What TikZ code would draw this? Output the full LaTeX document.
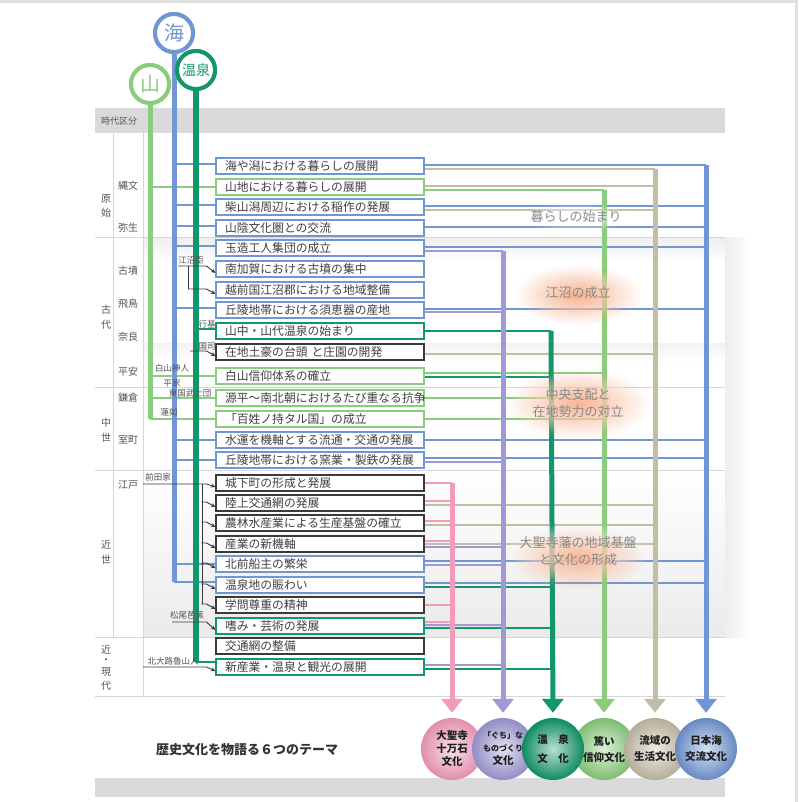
\documentclass[tikz,border=0pt]{standalone}
\usepackage{fontspec}
\setmainfont{Noto Sans CJK JP}
\usetikzlibrary{arrows.meta,fadings,calc}
\definecolor{cBlue}{HTML}{7096D4}
\definecolor{cGreen}{HTML}{8ACD7C}
\definecolor{cDk}{HTML}{12976A}
\definecolor{cTan}{HTML}{C4BDA6}
\definecolor{cPur}{HTML}{9F99D6}
\definecolor{cPink}{HTML}{F49BBB}
\definecolor{cDark}{HTML}{3A3A3A}
\definecolor{cText}{HTML}{404040}
\definecolor{cLab}{HTML}{555555}
\definecolor{cHead}{HTML}{DADADD}
\definecolor{cSep}{HTML}{D6D6D8}
\definecolor{cGlow}{HTML}{F6A37A}
\definecolor{cMid}{HTML}{8A8A8A}
\tikzfading[name=softglow, inner color=transparent!0, outer color=transparent!100]
\newcommand\hcon[4]{\draw[cn=#1] ($(#2.east)+(0,#3)$) -- ($(#2.east -| #4)+(0,#3)$);}
\newcommand\lcon[4]{\draw[br=#1] ($(#2.west -| #3)+(0,#4)$) -- ($(#2.west)+(0,#4)$);}
\newcommand\darr[3]{\draw[dk] (#1) -- ($(#1 -| #2.west)+(-9,0)$) -- ($(#2.west)+(0,#3)$);}
\newcommand\darrb[1]{\draw[dk] ($(#1.west)+(-14,-1)$) -- ($(#1.west)+(-9,-1)$) -- ($(#1.west)+(0,4)$);}
\begin{document}
\begin{tikzpicture}[x=1pt,y=-1pt,
  box/.style={draw=#1, line width=1.1pt, fill=white, minimum height=16pt, text width=190pt, inner xsep=9pt, inner ysep=0pt, align=left, font=\fontsize{11.8}{12}\selectfont, text=cText},
  cn/.style={draw=#1, line width=1.4pt},
  br/.style={draw=#1, line width=1.6pt},
  dk/.style={draw=cDark, line width=0.9pt, -{Stealth[length=4.5pt,width=4pt]}},
  dkl/.style={draw=cDark, line width=0.9pt},
  tv/.style={draw=#1, line width=5pt, -{Triangle[width=21pt,length=14pt]}, shorten >=5pt},
  tl/.style={draw=#1, line width=5pt},
  tc/.style={circle, draw=#1, line width=4pt, fill=white, minimum size=38pt, inner sep=0pt, text=#1},
  theme/.style={circle, minimum size=62pt, inner sep=0pt, shade, shading=radial, inner color=#1!30!white, outer color=#1!92!black, align=center, font=\bfseries\fontsize{10.5}{13}\selectfont, text=black!88},
  era/.style={font=\fontsize{10}{10}\selectfont, text=cLab, inner sep=0pt},
  sl/.style={font=\fontsize{8.5}{8.5}\selectfont, text=cLab, inner sep=0pt},
  mid/.style={font=\fontsize{13}{17}\selectfont, text=cMid, align=center, inner sep=0pt},
]
\useasboundingbox (0,0) rectangle (798,802);
\fill[white] (0,0) rectangle (798,802);
\draw[gray!25, line width=3pt] (0,2) -- (796,2) -- (796,802);
% backgrounds
\shade[top color=gray!14, bottom color=white] (143,237) rectangle (725,262);
\shade[top color=gray!10, bottom color=white] (143,343) rectangle (725,362);
\shade[top color=white, bottom color=gray!16] (143,470) rectangle (725,637);
\shade[left color=gray!14, right color=white] (725,237) rectangle (750,637);
\fill[cHead] (95,108) rectangle (725,133);
\fill[cHead] (95,778) rectangle (725,797);
\node[sl, font=\fontsize{9}{9}\selectfont] (hd) at (119,121) {時代区分};
\foreach \yy in {237,387,470,637,696} \draw[cSep, line width=0.8pt] (95,\yy) -- (725,\yy);
\draw[cSep, line width=0.8pt] (113,133) -- (113,637);
\draw[cSep, line width=0.8pt] (143,133) -- (143,696);
% era labels
\node[era] (e1) at (106,199) {原}; \node[era] (e2) at (106,213) {始};
\node[era] (e3) at (106,310) {古}; \node[era] (e4) at (106,325) {代};
\node[era] (e5) at (106,423) {中}; \node[era] (e6) at (106,438) {世};
\node[era] (e7) at (106,545) {近}; \node[era] (e8) at (106,560) {世};
\node[era] (e9) at (106,650) {近}; \node[era] (e10) at (106,661) {・};
\node[era] (e11) at (106,672) {現}; \node[era] (e12) at (106,686) {代};
\node[era] (p1) at (128,186) {縄文};
\node[era] (p2) at (128,228) {弥生};
\node[era] (p3) at (128,271) {古墳};
\node[era] (p4) at (128,304) {飛鳥};
\node[era] (p5) at (128,337) {奈良};
\node[era] (p6) at (128,372) {平安};
\node[era] (p7) at (128,398) {鎌倉};
\node[era] (p8) at (128,440) {室町};
\node[era] (p9) at (128,485) {江戸};
% boxes
\node[box=cBlue] (b1) at (320,166) {海や潟における暮らしの展開};
\node[box=cGreen] (b2) at (320,187) {山地における暮らしの展開};
\node[box=cBlue] (b3) at (320,207) {柴山潟周辺における稲作の発展};
\node[box=cBlue] (b4) at (320,228) {山陰文化圏との交流};
\node[box=cBlue] (b5) at (320,248) {玉造工人集団の成立};
\node[box=cBlue] (b6) at (320,269) {南加賀における古墳の集中};
\node[box=cBlue] (b7) at (320,290) {越前国江沼郡における地域整備};
\node[box=cBlue] (b8) at (320,310) {丘陵地帯における須恵器の産地};
\node[box=cDk] (b9) at (320,331) {山中・山代温泉の始まり};
\node[box=cDark] (b10) at (320,352) {在地土豪の台頭 と庄園の開発};
\node[box=cGreen] (b11) at (320,376) {白山信仰体系の確立};
\node[box=cGreen] (b12) at (320,398) {源平～南北朝におけるたび重なる抗争};
\node[box=cGreen] (b13) at (320,419) {「百姓ノ持タル国」の成立};
\node[box=cBlue] (b14) at (320,440) {水運を機軸とする流通・交通の発展};
\node[box=cBlue] (b15) at (320,460) {丘陵地帯における窯業・製鉄の発展};
\node[box=cDark] (b16) at (320,483) {城下町の形成と発展};
\node[box=cDark] (b17) at (320,503) {陸上交通網の発展};
\node[box=cDark] (b18) at (320,523) {農林水産業による生産基盤の確立};
\node[box=cDark] (b19) at (320,544) {産業の新機軸};
\node[box=cBlue] (b20) at (320,564) {北前船主の繁栄};
\node[box=cBlue] (b21) at (320,585) {温泉地の賑わい};
\node[box=cDark] (b22) at (320,605) {学問尊重の精神};
\node[box=cDk] (b23) at (320,626) {嗜み・芸術の発展};
\node[box=cDark] (b24) at (320,646) {交通網の整備};
\node[box=cDk] (b25) at (320,667) {新産業・温泉と観光の展開};
% theme circles
\node[theme=cPink] (tPink) at (452,749) {大聖寺\\十万石\\文化};
\node[theme=cPur] (tPur) at (503,749) {{\fontsize{8}{12}\selectfont「ぐち」な}\\{\fontsize{8}{12}\selectfont ものづくり}\\文化};
\node[theme=cGreen] (tGreen) at (604,749) {篤い\\[3pt]信仰文化};
\node[theme=cTan] (tTan) at (655,749) {流域の\\[3pt]生活文化};
\node[theme=cBlue] (tBlue) at (706,749) {日本海\\[3pt]交流文化};
\node[theme=cDk] (tDk) at (553,749) {温　泉\\[6pt]文　化};
\node[font=\bfseries\fontsize{13}{13}\selectfont, text=black!80] (ttl) at (247,750) {歴史文化を物語る６つのテーマ};
% theme vertical tops
\coordinate (vBlue) at (706,165);
\coordinate (vTan) at (655,169);
\coordinate (vGreen) at (604,190);
\coordinate (vPur) at (503,251);
\coordinate (vDk) at (551,331);
\coordinate (vPink) at (452,483);
% right connectors
\hcon{cBlue}{b1}{-1}{vBlue} \hcon{cTan}{b1}{3}{vTan}
\hcon{cTan}{b2}{-1}{vTan} \hcon{cGreen}{b2}{3}{vGreen}
\hcon{cBlue}{b3}{-1}{vBlue} \hcon{cTan}{b3}{3}{vTan}
\hcon{cBlue}{b4}{-1}{vBlue}
\hcon{cBlue}{b5}{-1}{vBlue} \hcon{cPur}{b5}{3}{vPur}
\hcon{cBlue}{b8}{-1}{vBlue} \hcon{cPur}{b8}{2}{vPur}
\hcon{cDk}{b9}{0}{vDk}
\hcon{cTan}{b10}{2}{vTan}
\hcon{cGreen}{b11}{-3}{vGreen} \hcon{cDk}{b11}{1}{vDk}
\hcon{cGreen}{b12}{0}{vGreen}
\hcon{cGreen}{b13}{0}{vGreen}
\hcon{cBlue}{b14}{0}{vBlue}
\hcon{cBlue}{b15}{-2}{vBlue} \hcon{cPur}{b15}{2}{vPur}
\hcon{cPink}{b16}{0}{vPink}
\hcon{cPink}{b17}{-2}{vPink} \hcon{cTan}{b17}{2}{vTan}
\hcon{cPink}{b18}{-2}{vPink} \hcon{cTan}{b18}{2}{vTan}
\hcon{cPink}{b19}{-3}{vPink} \hcon{cTan}{b19}{0}{vTan} \hcon{cPur}{b19}{3}{vPur}
\hcon{cBlue}{b20}{-3}{vBlue} \hcon{cPur}{b20}{1}{vPur}
\hcon{cBlue}{b21}{-2}{vBlue} \hcon{cDk}{b21}{2}{vDk}
\hcon{cPink}{b22}{0}{vPink}
\hcon{cPink}{b23}{-4}{vPink} \hcon{cPur}{b23}{-1}{vPur} \hcon{cDk}{b23}{2}{vDk}
\hcon{cPur}{b25}{-2}{vPur} \hcon{cDk}{b25}{2}{vDk}
% right verticals
\draw[tv=cPink] (vPink) -- (tPink.north);
\draw[tv=cPur] (vPur) -- (tPur.north);
\draw[tv=cDk] (vDk) -- (tDk.north);
\draw[tv=cGreen] (vGreen) -- (tGreen.north);
\draw[tv=cTan] (vTan) -- (tTan.north);
\draw[tv=cBlue] (vBlue) -- (tBlue.north);
% glows and middle texts
\fill[white, opacity=0.9, path fading=softglow] (576,217) ellipse (60 and 14);
\fill[white, opacity=0.95, path fading=softglow] (578,293) ellipse (58 and 24);
\fill[cGlow, opacity=0.85, path fading=softglow] (578,295) ellipse (64 and 30);
\fill[white, opacity=0.95, path fading=softglow] (578,404) ellipse (70 and 30);
\fill[cGlow, opacity=0.8, path fading=softglow] (578,404) ellipse (72 and 36);
\fill[white, opacity=0.95, path fading=softglow] (578,552) ellipse (76 and 30);
\fill[cGlow, opacity=0.8, path fading=softglow] (578,558) ellipse (68 and 32);
\node[mid] (m1) at (576,217) {暮らしの始まり};
\node[mid] (m2) at (578,293) {江沼の成立};
\node[mid] (m3) at (578,403) {中央支配と\\在地勢力の対立};
\node[mid] (m4) at (578,551) {大聖寺藩の地域基盤\\と文化の形成};
% top circles
\node[tc=cGreen, font=\fontsize{20}{20}\selectfont] (yama) at (150,84) {山};
\node[tc=cBlue, font=\fontsize{20}{20}\selectfont] (umi) at (174,33) {海};
\node[tc=cDk, font=\fontsize{14}{14}\selectfont] (onsen) at (196,70) {温泉};
% left branches
\lcon{cGreen}{b2}{yama}{0}
\lcon{cGreen}{b11}{yama}{0}
\lcon{cGreen}{b12}{yama}{0}
\lcon{cGreen}{b13}{yama}{0}
\lcon{cBlue}{b1}{umi}{-2}
\lcon{cBlue}{b3}{umi}{-2}
\lcon{cBlue}{b4}{umi}{-2}
\lcon{cBlue}{b5}{umi}{-2}
\lcon{cBlue}{b8}{umi}{-2}
\lcon{cBlue}{b14}{umi}{0}
\lcon{cBlue}{b15}{umi}{0}
\lcon{cBlue}{b20}{umi}{0}
\lcon{cBlue}{b21}{umi}{-3}
\lcon{cDk}{b9}{onsen}{-2}
\lcon{cDk}{b25}{onsen}{-5}
% left verticals
\draw[tl=cGreen] (yama.south) -- (yama.south |- b13.west);
\draw[tl=cBlue] (umi.south) -- ($(umi.south |- b21.west)+(0,-3)$);
\draw[tl=cDk, line width=6pt] (onsen.south) -- ($(onsen.south |- b25.west)+(0,-5)$);
\node[tc=cGreen, font=\fontsize{20}{20}\selectfont] (yama2) at (yama) {山};
\node[tc=cBlue, font=\fontsize{20}{20}\selectfont] (umi2) at (umi) {海};
\node[tc=cDk, font=\fontsize{14}{14}\selectfont] (onsen2) at (onsen) {温泉};
% dark bracket arrows and small labels
\coordinate (ej) at (178,266);
\coordinate (ej2) at (188,289);
\darr{ej}{b6}{4}
\draw[dkl] (188,266) -- (ej2);
\darr{ej2}{b7}{4}
\coordinate (koku) at (190,351);
\darr{koku}{b10}{4}
\coordinate (mae) at (143,484);
\darr{mae}{b16}{4}
\draw[dkl] (202,484) -- (202,604);
\darrb{b17} \darrb{b18} \darrb{b19} \darrb{b20} \darrb{b21} \darrb{b22}
\coordinate (basho) at (172,622);
\darr{basho}{b23}{4}
\coordinate (rosan) at (143,667);
\darr{rosan}{b25}{4}
\node[sl] (s1) at (191,260) {江沼臣};
\node[sl] (s2) at (207,324) {行基};
\node[sl] (s3) at (207,346) {国司};
\node[sl] (s4) at (172,368) {白山神人};
\node[sl] (s5) at (172,383) {平家};
\node[sl] (s6) at (190,393) {東国武士団};
\node[sl] (s7) at (169,412) {蓮如};
\node[sl] (s8) at (158,477) {前田家};
\node[sl] (s9) at (187,615) {松尾芭蕉};
\node[sl] (s10) at (173,661) {北大路魯山人};
\end{tikzpicture}
\end{document}
